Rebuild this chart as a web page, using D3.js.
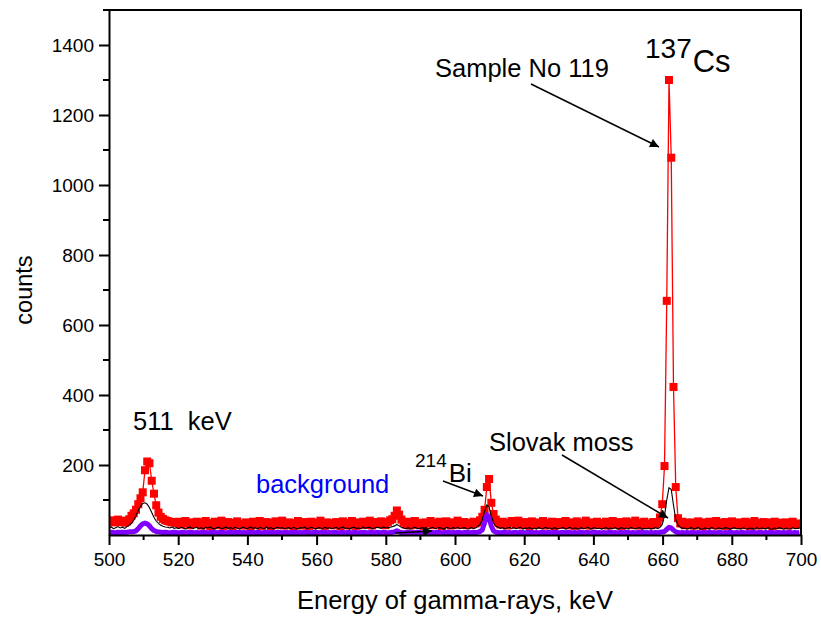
<!DOCTYPE html>
<html>
<head>
  <meta charset='utf-8'>
  <title>gamma spectrum</title>
  <script src="https://cdnjs.cloudflare.com/ajax/libs/d3/7.8.5/d3.min.js"></script>
  <style>
    html, body { margin: 0; padding: 0; background: #fff; }
    text { font-family: 'Liberation Sans', Arial, sans-serif; }
  </style>
</head>
<body>
<div id="chart"></div>
<script>
// channel calibration: energy = e0 + i * gain (keV)
var e0 = 500, gain = 0.65;

// Sample No 119 (red squares)
var sample = [
  38,42,36,40,44,37,41,35,39,45,55,62,72,88,105,122,185,210,205,155,
  118,85,64,52,46,42,40,38,36,37,34,38,30,35,40,33,28,36,31,38,
  33,27,36,40,30,25,34,38,28,35,41,26,32,37,29,24,35,39,30,33,
  27,36,31,24,38,33,29,40,26,34,37,30,25,35,39,28,33,41,27,31,
  36,29,24,34,40,31,27,37,33,25,38,30,35,28,41,32,26,36,30,34,
  28,37,33,25,39,31,35,27,40,32,26,36,30,38,29,34,41,27,33,37,
  31,39,34,28,37,42,45,55,70,58,44,36,30,38,27,34,40,29,35,31,
  26,36,33,40,28,35,31,38,25,34,39,30,27,36,32,41,29,33,37,28,
  34,30,38,33,36,42,52,72,137,160,92,60,44,36,30,38,33,27,35,40,
  36,30,41,34,28,37,32,26,39,33,29,36,31,40,27,35,30,38,25,33,
  37,29,34,40,28,32,36,26,39,31,35,28,41,33,27,36,30,38,29,34,
  31,38,27,35,40,29,33,37,26,34,39,30,36,28,41,32,27,35,38,30,
  33,28,37,31,36,50,88,197,669,1300,1078,423,137,48,33,38,28,35,30,36,
  27,34,39,30,25,36,32,38,28,33,40,27,35,31,37,26,34,39,29,33,
  36,28,32,38,30,26,35,40,31,27,34,37,29,36,32,25,38,33,28,35,
  31,36,27,34,38,30,33,29
];

// Slovak moss (black line)
var moss = [
  20,23,18,21,24,20,22,19,24,28,33,42,55,70,82,90,92,88,78,64,
  50,40,33,28,25,23,22,20,23,19,21,18,22,20,17,21,23,19,20,22,
  18,21,17,22,20,23,19,17,21,22,18,20,23,19,21,18,22,20,17,21,
  22,18,20,23,19,21,17,22,20,18,23,19,21,17,20,22,19,21,18,20,
  21,18,22,19,17,21,20,23,18,20,22,19,17,21,20,18,22,19,21,18,
  20,22,18,21,23,19,20,17,21,22,19,20,18,23,19,21,22,18,20,22,
  21,19,23,20,21,22,24,26,30,26,22,20,18,21,17,20,22,19,18,21,
  19,21,17,20,22,18,20,21,19,17,22,20,18,21,19,22,18,20,21,18,
  17,21,19,20,25,30,45,68,86,80,55,35,25,22,19,21,18,20,22,19,
  21,18,20,22,17,20,19,21,18,20,17,21,19,18,22,19,20,17,21,19,
  18,20,21,17,19,22,18,20,19,17,21,18,20,22,17,19,21,18,20,17,
  19,21,17,20,18,22,17,19,21,18,20,17,22,19,18,20,21,17,19,18,
  20,17,19,21,18,22,30,55,100,135,130,85,45,28,22,19,20,17,19,21,
  17,19,21,18,17,20,19,17,22,18,17,20,19,17,21,20,17,19,21,18,
  19,17,21,18,17,20,19,17,21,18,20,19,17,21,18,17,20,18,21,19,
  17,20,18,17,21,18,19,20
];

// background (violet line)
var background = [
  7,8,7,6,8,7,8,7,8,9,9,10,12,18,26,32,34,32,26,18,
  13,10,9,8,7,8,7,6,7,8,7,6,7,8,6,7,8,7,6,7,
  6,7,8,7,6,7,7,8,6,7,8,7,6,7,8,6,7,7,8,6,
  7,6,8,7,7,6,8,7,6,7,8,6,7,7,6,8,7,6,7,8,
  6,7,7,8,6,7,6,8,7,7,6,7,8,6,7,7,8,6,7,6,
  8,7,6,7,8,6,7,7,6,8,7,6,7,8,7,6,7,8,6,7,
  7,6,8,7,6,7,8,9,12,9,7,6,7,8,6,7,6,8,7,6,
  7,8,6,7,7,6,8,7,6,7,7,8,6,7,6,8,7,6,7,7,
  7,6,8,7,8,10,15,35,58,50,25,12,8,7,6,7,8,6,7,6,
  7,7,6,8,7,6,7,7,8,6,7,6,7,8,6,7,7,6,8,7,
  6,7,7,6,8,7,6,7,6,7,8,6,7,7,6,7,8,6,7,6,
  7,6,7,8,6,7,6,7,7,6,8,7,6,7,6,7,7,8,6,7,
  6,7,6,7,6,8,9,10,16,22,20,14,9,7,6,7,6,7,6,7,
  7,6,7,6,7,7,6,8,6,7,6,7,7,6,7,6,8,7,6,7,
  6,7,7,6,7,6,8,7,6,7,7,6,7,6,8,7,6,7,7,6,
  7,6,7,7,6,7,6,7
];

var xTicks = [500, 520, 540, 560, 580, 600, 620, 640, 660, 680, 700];
var yTicks = [200, 400, 600, 800, 1000, 1200, 1400];

var width = 821, height = 617;
var margin = {top: 10, right: 20, bottom: 82, left: 109};
var font = "'Liberation Sans', Arial, sans-serif";

var svg = d3.select('#chart').append('svg')
    .attr('width', width)
    .attr('height', height);

var x = d3.scaleLinear().domain([500, 700]).range([margin.left, width - margin.right]);
var y = d3.scaleLinear().domain([0, 1500]).range([height - margin.bottom, margin.top]);

svg.append('defs').append('marker')
    .attr('id', 'arrow')
    .attr('viewBox', '0 0 10 10')
    .attr('refX', 10).attr('refY', 5)
    .attr('markerUnits', 'userSpaceOnUse')
    .attr('markerWidth', 14).attr('markerHeight', 9)
    .attr('orient', 'auto')
  .append('path')
    .attr('d', 'M0,0L10,5L0,10Z')
    .attr('fill', '#000');

svg.append('clipPath').attr('id', 'clip')
  .append('rect')
    .attr('x', margin.left).attr('y', margin.top)
    .attr('width', width - margin.left - margin.right)
    .attr('height', height - margin.top - margin.bottom);

function toPoints(arr) {
  return arr.map(function(v, i) { return {e: e0 + i * gain, v: v}; });
}

var line = d3.line()
    .x(d => x(d.e))
    .y(d => y(d.v));

var plot = svg.append('g').attr('clip-path', 'url(#clip)');

var red = toPoints(sample);
plot.append('path')
    .datum(red)
    .attr('d', line)
    .attr('fill', 'none')
    .attr('stroke', '#ff0000')
    .attr('stroke-width', 1.3);

plot.selectAll('.sq')
    .data(red)
    .enter().append('rect')
    .attr('class', 'sq')
    .attr('x', d => x(d.e) - 4)
    .attr('y', d => y(d.v) - 4)
    .attr('width', 8)
    .attr('height', 8)
    .attr('fill', '#ff0000');

plot.append('path')
    .datum(toPoints(background))
    .attr('d', line)
    .attr('fill', 'none')
    .attr('stroke', '#8000ff')
    .attr('stroke-width', 5)
    .attr('stroke-linejoin', 'round');

plot.append('path')
    .datum(toPoints(moss))
    .attr('d', line)
    .attr('fill', 'none')
    .attr('stroke', '#000')
    .attr('stroke-width', 1.1);

// axes
var xAxis = svg.append('g')
    .attr('transform', 'translate(0,' + y(0) + ')')
    .call(d3.axisBottom(x).tickValues(xTicks).tickFormat(d3.format('d'))
      .tickSize(10).tickSizeOuter(0).tickPadding(8));
var yAxis = svg.append('g')
    .attr('transform', 'translate(' + margin.left + ',0)')
    .call(d3.axisLeft(y).tickValues(yTicks).tickFormat(d3.format('d'))
      .tickSize(10).tickSizeOuter(0).tickPadding(5));

[xAxis, yAxis].forEach(function(a) {
  a.select('.domain').attr('stroke-width', 2);
  a.selectAll('.tick line').attr('stroke-width', 2);
  a.selectAll('.tick text')
      .attr('font-family', font)
      .attr('font-size', 19)
      .attr('fill', '#000');
});

// minor ticks
svg.append('g').selectAll('line')
    .data(d3.range(510, 700, 20))
    .enter().append('line')
    .attr('x1', d => x(d)).attr('x2', d => x(d))
    .attr('y1', y(0)).attr('y2', y(0) + 5)
    .attr('stroke', '#000').attr('stroke-width', 2);
svg.append('g').selectAll('line')
    .data([100, 300, 500, 700, 900, 1100, 1300, 1500])
    .enter().append('line')
    .attr('x1', margin.left - 6).attr('x2', margin.left)
    .attr('y1', d => y(d)).attr('y2', d => y(d))
    .attr('stroke', '#000').attr('stroke-width', 2);

// frame top / right
svg.append('path')
    .attr('d', 'M' + margin.left + ',' + y(1500) + 'H' + x(700) + 'V' + y(0))
    .attr('fill', 'none')
    .attr('stroke', '#000')
    .attr('stroke-width', 2);

// axis titles
svg.append('text')
    .attr('x', 455)
    .attr('y', 609)
    .attr('text-anchor', 'middle')
    .attr('font-size', 25.5)
    .text('Energy of gamma-rays, keV');
svg.append('text')
    .attr('transform', 'translate(32,290) rotate(-90)')
    .attr('text-anchor', 'middle')
    .attr('font-size', 23.5)
    .text('counts');

// annotations
svg.append('text').attr('x', 133).attr('y', 430).attr('font-size', 25.5)
    .style('white-space', 'pre').text('511  keV');
svg.append('text').attr('x', 256).attr('y', 493).attr('font-size', 25.5)
    .attr('fill', '#0000ff').text('background');
svg.append('text').attr('x', 435).attr('y', 77).attr('font-size', 25.5).text('Sample No 119');
svg.append('text').attr('x', 489).attr('y', 451).attr('font-size', 25.5).text('Slovak moss');

var bi = svg.append('text').attr('x', 415).attr('y', 482).attr('font-size', 26);
bi.append('tspan').attr('font-size', 19).attr('dy', -15).text('214');
bi.append('tspan').attr('dy', 15).attr('dx', 2).text('Bi');

var cs = svg.append('text').attr('x', 645).attr('y', 72).attr('font-size', 31);
cs.append('tspan').attr('font-size', 28).attr('dy', -14).text('137');
cs.append('tspan').attr('dy', 14).attr('dx', 1).text('Cs');

var arrows = [
  [531, 84, 659, 147],
  [562, 455, 668, 518],
  [443, 481, 483, 496],
  [395, 533, 432, 531]
];
svg.selectAll('.arrow')
    .data(arrows)
    .enter().append('line')
    .attr('class', 'arrow')
    .attr('x1', d => d[0]).attr('y1', d => d[1])
    .attr('x2', d => d[2]).attr('y2', d => d[3])
    .attr('stroke', '#000')
    .attr('stroke-width', 1.5)
    .attr('marker-end', 'url(#arrow)');
</script>
</body>
</html>
